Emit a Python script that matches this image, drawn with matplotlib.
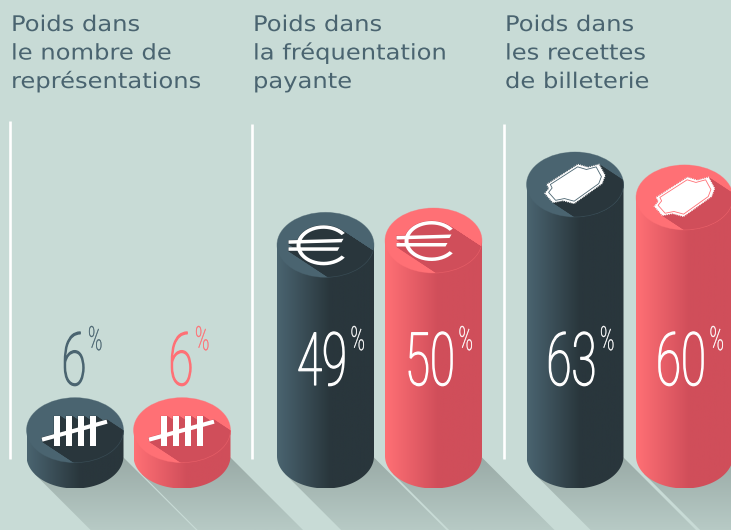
import numpy as np
import matplotlib
matplotlib.use('Agg')
import matplotlib.pyplot as plt
from matplotlib.colors import LinearSegmentedColormap
from matplotlib.patches import Ellipse, Polygon
from matplotlib.transforms import Affine2D
import matplotlib.patheffects as pe

titles = [['Poids dans', 'le nombre de', 'représentations'],
          ['Poids dans', 'la fréquentation', 'payante'],
          ['Poids dans', 'les recettes', 'de billeterie']]
dark_values = [6, 49, 63]
pink_values = [6, 50, 60]
icons = ['tally', 'euro', 'ticket']

# layout, in pixels of the picture
dark_x = [75, 325.5, 575]
pink_x = [182, 433.5, 684.5]
title_x = [11, 253, 505]
title_y = [31, 59.5, 88]
rule_x = [10.3, 252, 504.3]
rule_top = [121, 124, 124]
rx, ry = 48.5, 32.5
base_y = 456
px_per_pct = 4.31

BG = '#c8dbd6'
DARK = ('#4a6470', '#29363c')
PINK = ('#ff7075', '#d04e5a')
SWEEP = np.array([1, 0.66]) * 90


class Squeeze(pe.AbstractPathEffect):
    # scale the glyphs sideways and thicken them a bit, the text stays text
    def __init__(self, sx, stroke=0):
        super().__init__()
        self.sx = sx
        self.stroke = stroke

    def draw_path(self, renderer, gc, tpath, affine, rgbFace=None):
        gc0 = renderer.new_gc()
        gc0.copy_properties(gc)
        if self.stroke:
            gc0.set_foreground(rgbFace)
            gc0.set_linewidth(self.stroke)
        renderer.draw_path(gc0, tpath, Affine2D().scale(self.sx, 1) + affine, rgbFace)
        gc0.restore()


def ground_shadow(ax, cx):
    k = np.sqrt(rx**2 + ry**2)
    left = np.array([cx - rx**2 / k, base_y + ry**2 / k])
    right = np.array([cx + rx - 1.5, base_y])
    poly = Polygon([left, right, right + 120, left + 120], transform=ax.transData)
    ramp = np.linspace(0, 1, 64).reshape(-1, 1)
    cmap = LinearSegmentedColormap.from_list('s', ['#99aaa6', '#b7cac5'])
    im = ax.imshow(ramp, cmap=cmap, extent=(0, 731, 530, 455), aspect='auto', zorder=1)
    im.set_clip_path(poly)


def arc_band(cx, cy, r1, r2, a1, a2):
    t = np.radians(np.linspace(a1, a2, 40))
    outer = np.c_[cx + r1[0] * np.cos(t), cy + r1[1] * np.sin(t)]
    inner = np.c_[cx + r2[0] * np.cos(t), cy + r2[1] * np.sin(t)][::-1]
    return np.vstack([outer, inner])


def icon_shapes(kind):
    if kind == 'tally':
        bars = [[(x, -14), (x + 6, -14), (x + 6, 16), (x, 16)] for x in (-21, -9, 3, 15)]
        slash = [(-33.5, 7.5), (31.5, -10.5), (32.5, -6.5), (-32.5, 11.5)]
        return [np.array(s, float) for s in bars + [slash]]
    if kind == 'euro':
        arc = arc_band(-2, 0.5, (27, 20), (23, 16.5), 38, 322)
        bar1 = [(-37, -4.5), (18, -6), (16, -2.5), (-37, -1)]
        bar2 = [(-37, 2.5), (14, 2.5), (12, 6), (-37, 6)]
        return [arc, np.array(bar1, float), np.array(bar2, float)]
    outer = [(-28, 0), (3, -20), (13, -17), (24, -20), (30, -9), (27, -1), (-1, 19),
             (-12, 16), (-22, 18), (-30, 9), (-26, 4)]
    return [np.array(outer, float)]


def cylinder(ax, cx, value, colors, kind, num_color):
    top_y = base_y - value * px_per_pct
    # side with its left to right gradient
    t = np.radians(np.linspace(0, 180, 60))
    lower = np.c_[cx + rx * np.cos(t), base_y + ry * np.sin(t)]
    side = np.vstack([[cx + rx, top_y], lower, [cx - rx, top_y]])
    poly = Polygon(side, transform=ax.transData)
    cmap = LinearSegmentedColormap.from_list('c', [(0, colors[0]), (0.55, colors[1]), (1, colors[1])])
    im = ax.imshow(np.linspace(0, 1, 128).reshape(1, -1), cmap=cmap, aspect='auto',
                   extent=(cx - rx, cx + rx, base_y + ry, top_y), zorder=3)
    im.set_clip_path(poly)

    # top face
    face = Ellipse((cx, top_y), 2 * rx, 2 * ry, fc=colors[0], ec='none', zorder=4)
    ax.add_patch(face)

    # long shadow of the icon, clipped by the face
    shapes = [s + [cx, top_y] for s in icon_shapes(kind)]
    for s in shapes:
        for p, q in zip(s, np.roll(s, -1, axis=0)):
            quad = Polygon([p, q, q + SWEEP, p + SWEEP], fc=colors[1], ec=colors[1], lw=0.4, zorder=5)
            ax.add_patch(quad)
            quad.set_clip_path(face)
    rim = Ellipse((cx, top_y), 2 * rx, 2 * ry, fc='none', ec=colors[0], lw=0.5, alpha=0.45, zorder=6)
    ax.add_patch(rim)

    for s in shapes:
        ax.add_patch(Polygon(s, fc='white', ec='none', zorder=7))
    if kind == 'ticket':
        ax.add_patch(Polygon(shapes[0], fc='none', ec='white', lw=1, ls=(0, (0.6, 0.8)), zorder=7))
        inner = (shapes[0] - [cx, top_y]) * 0.88 + [cx, top_y]
        ax.add_patch(Polygon(inner, fc='white', ec=colors[0], lw=0.6, zorder=8))

    # value and percent sign
    ax.text(cx - 28.5 + (15 if value < 10 else 0), 385, str(value), color=num_color, fontsize=53,
            family='Roboto', weight='light', ha='left', va='baseline',
            path_effects=[Squeeze(0.62, 0.9)], zorder=9)
    ax.text(cx + 13 if value < 10 else cx + 25, 350, '%', color=num_color, fontsize=24,
            family='Roboto', weight='light', ha='left', va='baseline',
            path_effects=[Squeeze(0.58, 0.3)], zorder=9)


fig = plt.figure(figsize=(7.31, 5.30), dpi=100, facecolor=BG)
ax = fig.add_axes([0, 0, 1, 1])
ax.set_facecolor(BG)
ax.axis('off')

for i in range(3):
    ground_shadow(ax, dark_x[i])
    ground_shadow(ax, pink_x[i])

for i in range(3):
    ax.plot([rule_x[i], rule_x[i]], [rule_top[i], 459], color='white', lw=1.9, solid_capstyle='butt', zorder=2)
    for line, y in zip(titles[i], title_y):
        ax.text(title_x[i], y, line, color='#4a6470', fontsize=15.5, family='DejaVu Sans',
                ha='left', va='baseline', path_effects=[Squeeze(1.125)], zorder=9)
    small = dark_values[i] < 10
    cylinder(ax, dark_x[i], dark_values[i], DARK, icons[i], DARK[0] if small else 'white')
    cylinder(ax, pink_x[i], pink_values[i], PINK, icons[i], PINK[0] if small else 'white')

ax.set_xlim(0, 731)
ax.set_ylim(530, 0)
fig.savefig('out.png', dpi=100, facecolor=BG)
